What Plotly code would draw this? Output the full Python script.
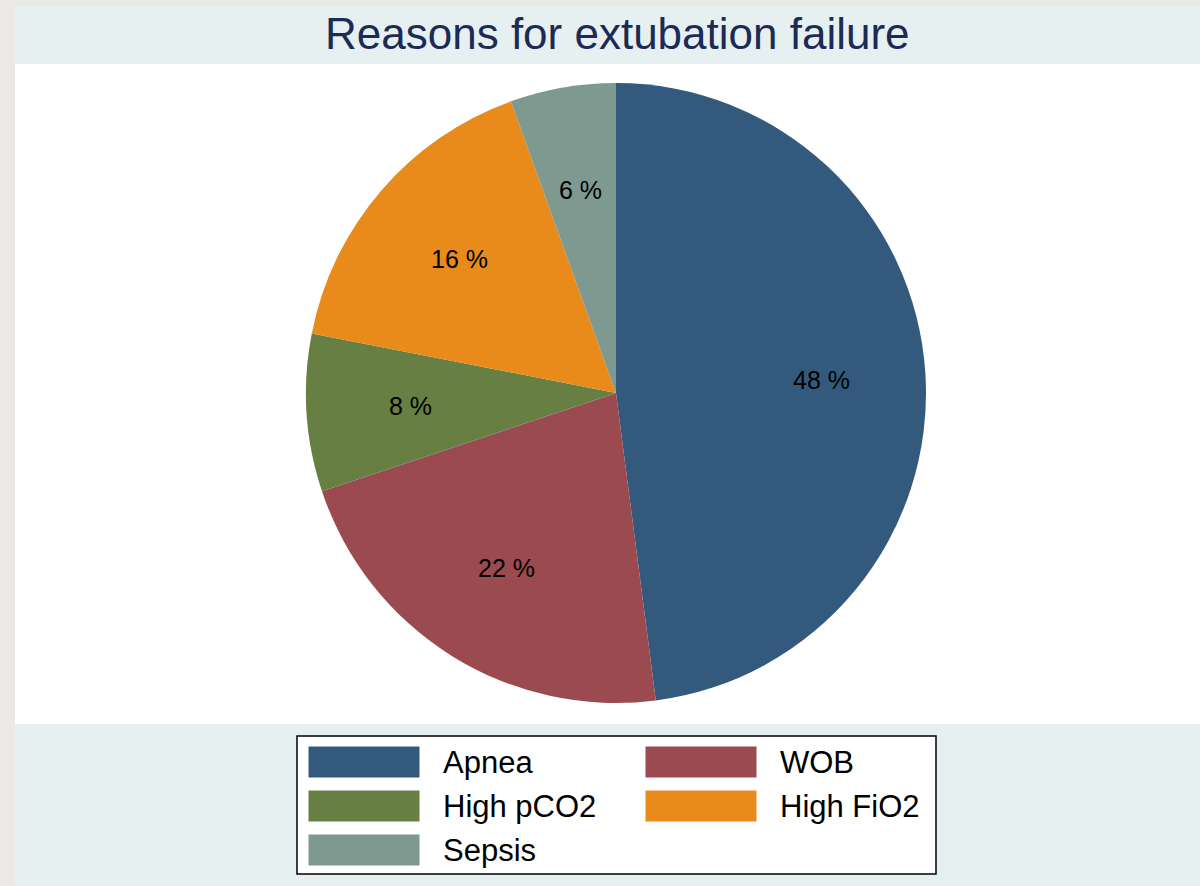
import math
import plotly.graph_objects as go

# ---- data ----
categories = ["Apnea", "WOB", "High pCO2", "High FiO2", "Sepsis"]
percent = [47.9, 21.9, 8.2, 16.4, 5.5]          # slice shares
percent_labels = ["48 %", "22 %", "8 %", "16 %", "6 %"]  # labels as printed
colors = ["#335a7c", "#9b4a50", "#677f43", "#e88b1a", "#7e998f"]
title_text = "Reasons for extubation failure"

W, H = 1200, 886
cx, cy, r = 616, 393, 310  # pie centre / radius in px


def px(x):
    return x / W


def py(y):
    return 1 - y / H


fig = go.Figure()
fig.add_trace(go.Pie(
    labels=categories,
    values=percent,
    marker=dict(colors=colors, line=dict(width=0)),
    sort=False,
    direction="clockwise",
    rotation=0,
    textinfo="none",
    hoverinfo="label+percent",
    showlegend=False,
    domain=dict(x=[px(cx - r), px(cx + r)], y=[py(cy + r), py(cy - r)]),
))

shapes = []
# grey outer strips
shapes.append(dict(type="rect", xref="paper", yref="paper", x0=0, x1=px(15), y0=0, y1=1,
                   fillcolor="#ebe9e5", line=dict(width=0), layer="below"))
shapes.append(dict(type="rect", xref="paper", yref="paper", x0=0, x1=1, y0=py(6), y1=1,
                   fillcolor="#ebe9e5", line=dict(width=0), layer="below"))
# white plot region
shapes.append(dict(type="rect", xref="paper", yref="paper", x0=px(15), x1=1, y0=py(724), y1=py(64),
                   fillcolor="#ffffff", line=dict(width=0), layer="below"))

annotations = []
# title
annotations.append(dict(text=title_text, x=px(617), y=py(33), xref="paper", yref="paper",
                        showarrow=False, xanchor="center", yanchor="middle",
                        font=dict(size=44, color="#1c2b55", family="Liberation Sans, Arial")))

# slice labels at 2/3 radius
total = sum(percent)
cum = 0
for v, lab in zip(percent, percent_labels):
    mid = (cum + v / 2) / total
    ang = math.radians(90 - 360 * mid)
    lx = cx + 0.665 * r * math.cos(ang)
    ly = cy - 0.665 * r * math.sin(ang)
    annotations.append(dict(text=lab, x=px(lx), y=py(ly), xref="paper", yref="paper",
                            showarrow=False, xanchor="center", yanchor="middle",
                            font=dict(size=25, color="#000000", family="Liberation Sans, Arial")))
    cum += v

# legend box
shapes.append(dict(type="rect", xref="paper", yref="paper", x0=px(297), x1=px(936),
                   y0=py(874), y1=py(736), fillcolor="#ffffff",
                   line=dict(color="#000000", width=1.5)))
col_x = [308, 645]
row_y = [762, 806, 850]
for i, (name, c) in enumerate(zip(categories, colors)):
    rx = col_x[i % 2]
    ry = row_y[i // 2]
    shapes.append(dict(type="rect", xref="paper", yref="paper", x0=px(rx), x1=px(rx + 112),
                       y0=py(ry + 16), y1=py(ry - 16), fillcolor=c,
                       line=dict(color="#ffffff", width=1)))
    annotations.append(dict(text=name, x=px(rx + 133), y=py(ry), xref="paper", yref="paper",
                            showarrow=False, xanchor="left", yanchor="middle",
                            font=dict(size=31, color="#000000", family="Liberation Sans, Arial")))

fig.update_layout(
    width=W, height=H,
    margin=dict(l=0, r=0, t=0, b=0),
    paper_bgcolor="#e7f0f1",
    plot_bgcolor="#e7f0f1",
    shapes=shapes,
    annotations=annotations,
    showlegend=False,
)

fig.write_html("out.html")
